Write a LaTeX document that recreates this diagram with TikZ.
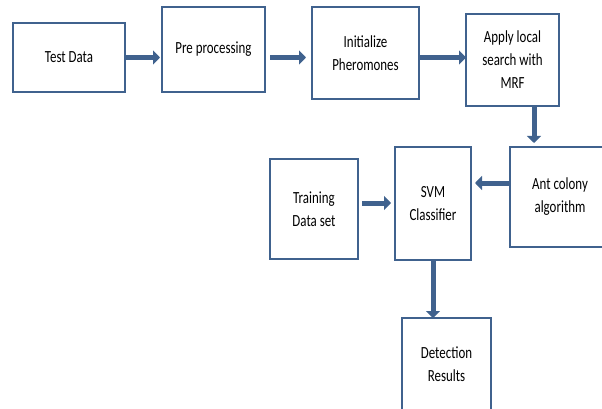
\documentclass[tikz,border=0pt]{standalone}
\usepackage{fontspec}
\setmainfont{Carlito}[FakeStretch=0.76]
\usepackage{tikz}
\usetikzlibrary{positioning}
\usetikzlibrary{arrows,arrows.meta}
\definecolor{boxblue}{RGB}{64,98,142}
\tikzstyle{block} = [draw=boxblue, line width=2.8pt, fill=white, rectangle, align=center, inner sep=0pt, outer sep=0pt, font=\fontsize{17}{23}\selectfont]
\tikzstyle{flow} = [draw=boxblue, line width=5pt, ->]
\tikzstyle{coord} = [coordinate]

\begin{document}
\begin{tikzpicture}[x=1pt, y=1pt, >={Triangle[length=7pt,width=14pt]}]
	\clip (0,0) rectangle (602,-409);
	\useasboundingbox (0,0) rectangle (602,-409);
	\node [block, minimum width=112pt, minimum height=69pt] (test) at (69,-57.5) {Test Data};
	\node [block, minimum width=103pt, minimum height=85pt, right=37pt of test, yshift=8pt] (pre) {Pre processing};
	\node [block, minimum width=107pt, minimum height=92pt, right=47pt of pre, yshift=-3.5pt] (init) {Initialize\\Pheromones};
	\node [block, minimum width=93pt, minimum height=92pt, right=47pt of init, yshift=-7pt] (apply) {Apply local\\search with\\MRF};

	\node [block, minimum width=100pt, minimum height=100pt, below=41pt of apply, xshift=47.5pt] (ant) {Ant colony\\algorithm};
	\node [block, minimum width=76pt, minimum height=113pt, left=39pt of ant, yshift=-6.5pt] (svm) {SVM\\Classifier};
	\node [block, minimum width=88pt, minimum height=100pt, left=37pt of svm, yshift=-5.5pt] (train) {Training\\Data set};
	\node [block, minimum width=89pt, minimum height=92pt, below=58pt of svm, xshift=13.5pt] (det) {Detection\\Results};

	\coordinate (aDown) at ([xshift=-25pt]apply.south east);
	\coordinate (aLeft) at ([yshift=14pt]ant.west);
	\coordinate (tRight) at ([yshift=6pt]train.east);

    \draw [flow, shorten >=2pt] (test.east) -- (pre.west |- test.east);
    \draw [flow, shorten <=5pt, shorten >=6pt] (pre.east |- test.east) -- (init.west |- test.east);
    \draw [flow] (init.east |- test.east) -- (apply.west |- test.east);
    \draw [flow, shorten >=4pt] (aDown) -- (aDown |- ant.north);
    \draw [flow, shorten >=4pt] (aLeft) -- (svm.east |- aLeft);
    \draw [flow, shorten <=4pt, shorten >=4pt] (tRight) -- (svm.west |- tRight);
    \draw [flow] (svm.south) -- (det.north -| svm.south);

\end{tikzpicture}
\end{document}
